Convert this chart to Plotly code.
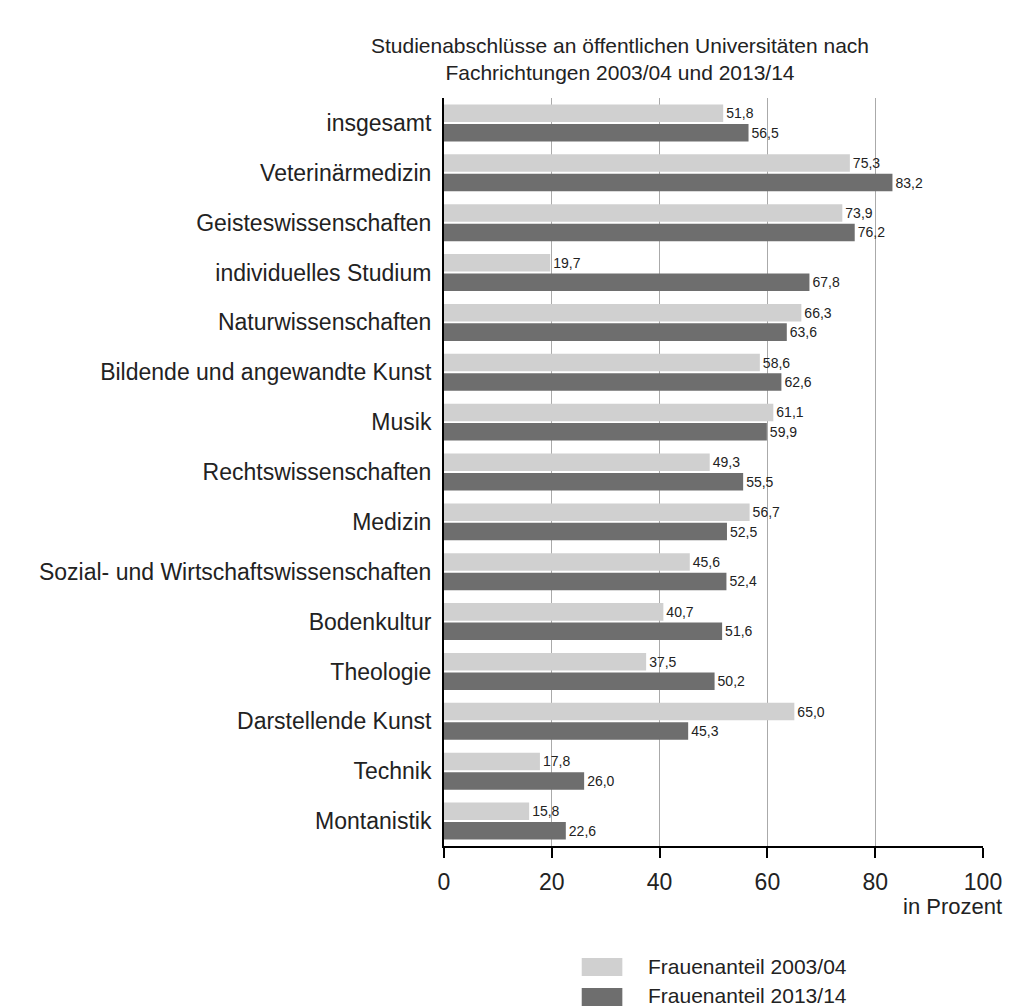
import plotly.graph_objects as go

categories = [
    "insgesamt", "Veterinärmedizin", "Geisteswissenschaften", "individuelles Studium",
    "Naturwissenschaften", "Bildende und angewandte Kunst", "Musik", "Rechtswissenschaften",
    "Medizin", "Sozial- und Wirtschaftswissenschaften", "Bodenkultur", "Theologie",
    "Darstellende Kunst", "Technik", "Montanistik",
]
anteil_2003 = [51.8, 75.3, 73.9, 19.7, 66.3, 58.6, 61.1, 49.3, 56.7, 45.6, 40.7, 37.5, 65.0, 17.8, 15.8]
anteil_2013 = [56.5, 83.2, 76.2, 67.8, 63.6, 62.6, 59.9, 55.5, 52.5, 52.4, 51.6, 50.2, 45.3, 26.0, 22.6]
series_names = ["Frauenanteil 2003/04", "Frauenanteil 2013/14"]
tick_values = [0, 20, 40, 60, 80, 100]

FONT = "Liberation Sans, Arial, sans-serif"
LIGHT = "#d0d0d0"
DARK = "#6e6e6e"
TXT = "#222222"

fig = go.Figure()
for name, vals, col in [(series_names[0], anteil_2003, LIGHT), (series_names[1], anteil_2013, DARK)]:
    fig.add_trace(go.Bar(
        y=categories, x=vals, name=name, orientation="h",
        marker=dict(color=col, line=dict(width=0)),
        texttemplate="%{x:.1f}", textposition="outside",
        textfont=dict(family=FONT, size=14, color=TXT),
        constraintext="none", cliponaxis=False, showlegend=False,
    ))

W, H = 1014, 1008
L, R, T, B = 444, 26, 98, 162
pw, ph = W - L - R, H - T - B

def px_x(x):
    return (x - L) / pw

def px_y(y):
    return (H - B - y) / ph

# legend drawn manually
shapes = []
annotations = []
for i, (name, col) in enumerate([(series_names[0], LIGHT), (series_names[1], DARK)]):
    top = 958 + i * 30
    shapes.append(dict(type="rect", xref="paper", yref="paper",
                       x0=px_x(583), x1=px_x(624), y0=px_y(top + 18), y1=px_y(top),
                       fillcolor=col, line=dict(width=0)))
    annotations.append(dict(xref="paper", yref="paper", x=px_x(648), y=px_y(top + 8),
                            text=name, showarrow=False, xanchor="left", yanchor="middle",
                            font=dict(family=FONT, size=21, color=TXT)))

annotations.append(dict(xref="paper", yref="paper", x=px_x(1009), y=px_y(906),
                        text="in Prozent", showarrow=False, xanchor="right", yanchor="middle",
                        font=dict(family=FONT, size=22, color=TXT)))

fig.update_layout(
    width=W, height=H,
    margin=dict(l=L, r=R, t=T, b=B, pad=0),
    paper_bgcolor="white", plot_bgcolor="white",
    separators=",.",
    barmode="group", bargap=0.22, bargroupgap=0.1,
    title=dict(text="Studienabschlüsse an öffentlichen Universitäten nach<br>Fachrichtungen 2003/04 und 2013/14",
               x=620 / W, xref="container", xanchor="center",
               y=1 - 53 / H, yref="container", yanchor="top",
               font=dict(family=FONT, size=21, color=TXT)),
    font=dict(family=FONT, color=TXT),
    shapes=shapes, annotations=annotations,
    showlegend=False,
)
fig.update_xaxes(
    range=[0, 100], tickvals=tick_values, ticktext=[str(v) for v in tick_values],
    showgrid=True, gridcolor="#aaaaaa", gridwidth=1,
    showline=True, linecolor="black", linewidth=2,
    ticks="outside", ticklen=10, tickwidth=2, tickcolor="black",
    ticklabelstandoff=4,
    tickfont=dict(family=FONT, size=23, color=TXT),
    zeroline=False, fixedrange=True,
)
fig.update_yaxes(
    categoryorder="array", categoryarray=categories, autorange="reversed",
    showline=True, linecolor="black", linewidth=2,
    ticks="", showgrid=False, ticklabelstandoff=6,
    tickfont=dict(family=FONT, size=23, color=TXT),
)

fig.write_html("out.html")
